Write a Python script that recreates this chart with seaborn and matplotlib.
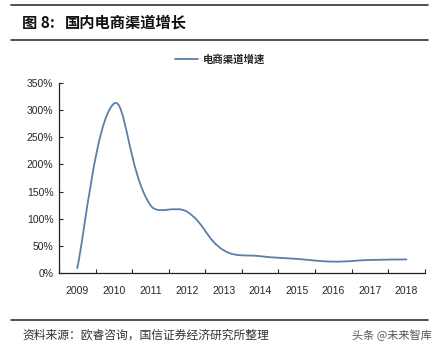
import numpy as np
import matplotlib
matplotlib.use("Agg")
import matplotlib.pyplot as plt
from matplotlib.path import Path
from matplotlib.patches import PathPatch
from matplotlib.lines import Line2D
import seaborn as sns
import pandas as pd

years = ["2009", "2010", "2011", "2012", "2013", "2014", "2015", "2016", "2017", "2018"]
growth = [9, 312, 125, 113, 42, 31, 26, 21, 24, 25]  # %
series_name = "电商渠道增速"

title_num = "图 8:"
title_text = "国内电商渠道增长"
source = "资料来源：欧睿咨询，国信证券经济研究所整理"
watermark = "头条 @未来智库"

LINE_COLOR = "#5a7fa8"
CJK = ["Noto Sans CJK SC", "DejaVu Sans"]

sns.set_style("ticks")
plt.rcParams["font.family"] = ["Liberation Sans", "Noto Sans CJK SC", "DejaVu Sans"]


def smooth_path(ax, xs, ys, k=0.4):
    # Excel-like smoothed line: Bezier segments whose handles scale with the
    # on-screen length of each segment (done in display space, mapped back)
    trans = ax.transData
    pts = trans.transform(np.column_stack([xs, ys]).astype(float))
    n = len(pts)
    verts = [pts[0]]
    codes = [Path.MOVETO]
    for i in range(n - 1):
        p1, p2 = pts[i], pts[i + 1]
        seg = np.linalg.norm(p2 - p1)
        if i > 0:
            p0 = pts[i - 1]
            t1 = (p2 - p0) / (np.linalg.norm(p1 - p0) + seg)
        else:
            t1 = (p2 - p1) / seg / 2
        if i + 2 < n:
            p3 = pts[i + 2]
            t2 = (p3 - p1) / (seg + np.linalg.norm(p3 - p2))
        else:
            t2 = (p2 - p1) / seg / 2
        c1 = p1 + t1 * seg * k
        c2 = p2 - t2 * seg * k
        verts += [c1, c2, p2]
        codes += [Path.CURVE4] * 3
    verts = trans.inverted().transform(np.array(verts))
    return Path(verts, codes)


def main():
    df = pd.DataFrame({"year": years, "growth": growth})
    df["pos"] = np.arange(len(df))

    fig = plt.figure(figsize=(4.43, 3.53), dpi=100)
    ax = fig.add_axes([0.133, 0.2266, 0.826, 0.538])

    # invisible line sets up the scales; the smoothed curve is drawn on top
    sns.lineplot(data=df, x="pos", y="growth", ax=ax, linewidth=0, legend=False)

    ax.set_xlim(-0.5, len(years) - 0.5)
    ax.set_ylim(0, 350)
    ax.add_patch(PathPatch(smooth_path(ax, df["pos"], df["growth"]), facecolor="none",
                           edgecolor=LINE_COLOR, linewidth=1.3, capstyle="round"))
    ax.set_yticks(np.arange(0, 351, 50))
    ax.set_yticklabels([f"{v}%" for v in range(0, 351, 50)], fontsize=7.5)
    ax.set_xticks(df["pos"])
    ax.set_xticklabels(years, fontsize=7.5)
    ax.set_xticks(np.arange(-0.5, len(years)), minor=True)
    ax.tick_params(axis="x", which="major", length=0, pad=9)
    ax.tick_params(axis="x", which="minor", direction="in", length=3, width=0.8)
    ax.tick_params(axis="y", direction="in", length=3, width=0.8, pad=4)
    ax.set_xlabel("")
    ax.set_ylabel("")
    sns.despine(ax=ax)
    for s in ["left", "bottom"]:
        ax.spines[s].set_linewidth(0.9)
        ax.spines[s].set_color("#222222")

    handle = Line2D([], [], color=LINE_COLOR, linewidth=1.3)
    fig.legend([handle], [series_name], loc="center", bbox_to_anchor=(0.497, 0.832),
               frameon=False, handlelength=2.2, handletextpad=0.5,
               prop={"family": CJK, "size": 7.5, "weight": "bold"})

    # report frame: rules, title, source, watermark
    for y in [0.986, 0.887, 0.094]:
        fig.add_artist(Line2D([0.025, 0.966], [y, y], color="#333333", linewidth=1.2))
    fig.text(0.05, 0.935, title_num, family=CJK, fontsize=11, fontweight="bold",
             va="center", ha="left", color="#111111")
    fig.text(0.147, 0.935, title_text, family=CJK, fontsize=11, fontweight="bold",
             va="center", ha="left", color="#111111")
    fig.text(0.05, 0.051, source, family=CJK, fontsize=8.5, va="center", ha="left",
             color="#333333")
    fig.text(0.975, 0.051, watermark, family=CJK, fontsize=8, va="center", ha="right",
             color="#555555")

    fig.savefig("out.png", dpi=100)


if __name__ == "__main__":
    main()
